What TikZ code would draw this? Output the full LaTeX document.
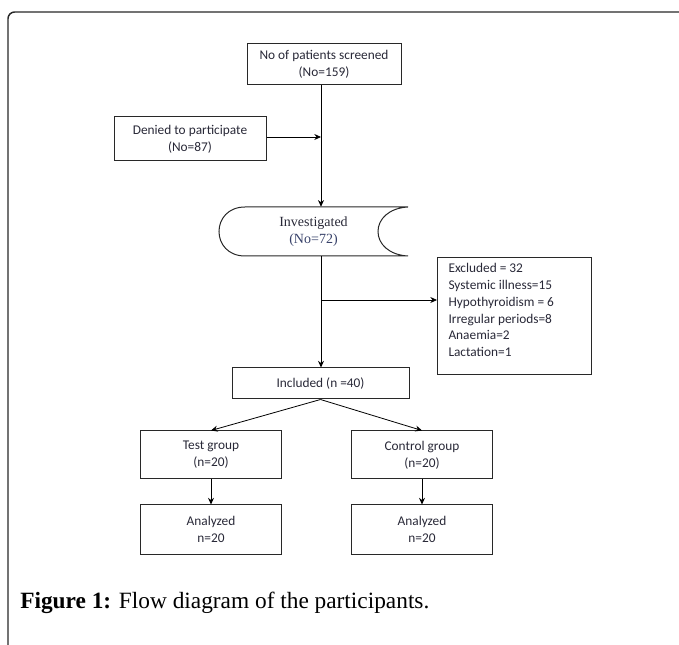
\documentclass[tikz,border=0pt]{standalone}
\usepackage{fontspec}
\setmainfont{Liberation Serif}
\newfontfamily\calfont{Carlito}
\usetikzlibrary{arrows.meta}
\definecolor{inkgray}{RGB}{40,40,40}
\definecolor{txtcol}{RGB}{40,40,55}
\definecolor{numblue}{RGB}{55,65,105}

\begin{document}
\begin{tikzpicture}[x=0.75pt, y=-0.75pt,
    box/.style={draw=inkgray, line width=0.75pt, align=center, text=txtcol, inner sep=2pt,
        font=\calfont\fontsize{10}{12.6}\selectfont},
    arrow/.style={-{Stealth[length=5pt,width=4.5pt]}, line width=0.6pt}
]
\useasboundingbox (0,0) rectangle (679,645);
% page frame
\draw[inkgray, line width=1.1pt, rounded corners=5pt] (8,645) -- (8,12) -- (679,12);

\node[box, minimum width=115.5pt, minimum height=30.75pt] (screen) at (324,64.5) {No of patients screened\\(No=159)};
\node[box, minimum width=114pt, minimum height=33pt] (denied) at (190,139) {Denied to participate\\(No=87)};

% stored data shape
\draw[inkgray, line width=0.75pt] (245,207) -- (408,207)
    .. controls (389,208) and (378,219) .. (378,231.5)
    .. controls (378,244) and (389,255) .. (408,256) -- (245,256)
    .. controls (228,256) and (219,244) .. (219,231.5)
    .. controls (219,219) and (228,207) .. (245,207) -- cycle;
\node[align=center, minimum width=141.75pt, minimum height=36.75pt, inner sep=0pt,
    font=\fontsize{10.5}{12.5}\selectfont, text=txtcol] (invest) at (313.5,231.5)
    {Investigated\\\textcolor{numblue}{(No=72)}};

\node[box, anchor=north west, align=flush left, text width=99pt, inner xsep=8.25pt, inner ysep=3.5pt,
    minimum height=87.75pt] (excl) at (437,257)
    {Excluded = 32\\Systemic illness=15\\Hypothyroidism = 6\\Irregular periods=8\\Anaemia=2\\Lactation=1\rule[-9pt]{0pt}{9pt}};

\node[box, minimum width=132.75pt, minimum height=23.25pt] (incl) at (320.5,383.5) {Included (n =40)};
\node[box, minimum width=105.75pt, minimum height=36pt] (test) at (211,455) {Test group\\(n=20)};
\node[box, minimum width=105.75pt, minimum height=36pt] (ctrl) at (422,455) {Control group\\(n=20)};
\node[box, minimum width=105.75pt, minimum height=36.75pt] (an1) at (211,529.5) {Analyzed\\n=20};
\node[box, minimum width=105.75pt, minimum height=36.75pt] (an2) at (422,529.5) {Analyzed\\n=20};

\coordinate (j1) at (321,137);
\coordinate (j2) at (321,300);

\draw[arrow] (screen.south -| j1) -- (invest.north -| j1);
\draw[arrow] (denied.east |- j1) -- (j1);
\draw[arrow] (invest.south -| j2) -- (incl.north -| j2);
\draw[arrow] (j2) -- (excl.west |- j2);
\draw[arrow] (incl.south) -- (test.north);
\draw[arrow] (incl.south) -- (ctrl.north);
\draw[arrow] (test) -- (an1);
\draw[arrow] (ctrl) -- (an2);

\node[anchor=base west, inner sep=0pt, font=\fontsize{17.5}{20}\selectfont] (caption) at (20,608)
    {\textbf{Figure 1:} Flow diagram of the participants.};
\end{tikzpicture}
\end{document}
